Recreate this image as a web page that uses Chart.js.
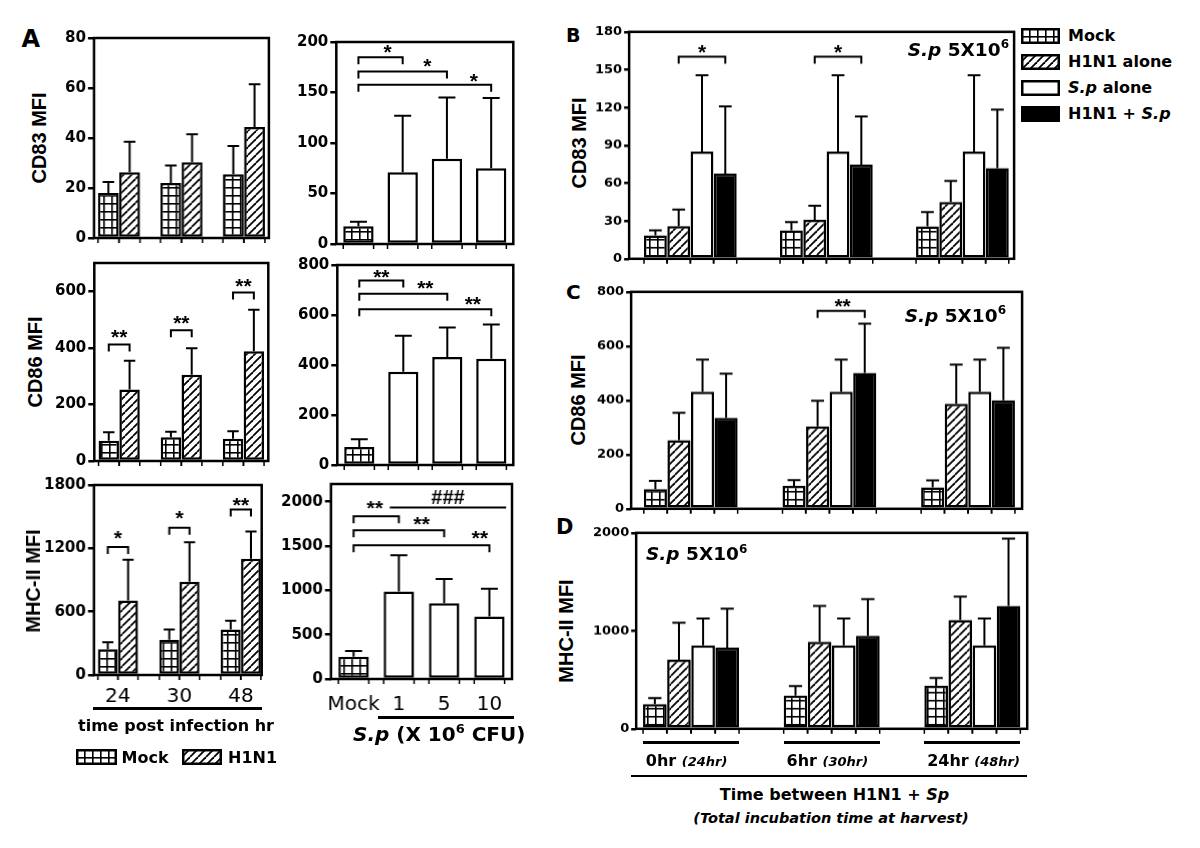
<!DOCTYPE html>
<html>
<head>
<meta charset="utf-8">
<script src="https://cdn.jsdelivr.net/npm/chart.js@4.4.1/dist/chart.umd.min.js"></script>
<style>
  html, body { margin: 0; padding: 0; background: #fff; }
  #fig { position: relative; width: 1200px; height: 848px; overflow: hidden; font-family: 'DejaVu Sans', sans-serif; color: #000; }
  #fig canvas { position: absolute; }
  .t { position: absolute; white-space: nowrap; line-height: 1; font-weight: bold; }
  .ln { position: absolute; background: #000; }
  .sup { font-size: 65%; position: relative; top: -0.6em; }
</style>
</head>
<body>
<div id="fig"></div>
<script>
// ---- data (mean, and top of the error bar) ----
const timeLabels = ['24', '30', '48'];
const doseLabels = ['Mock', '1', '5', '10'];
const doseKinds = ['grid', 'white', 'white', 'white'];

const cd83Mock = [18, 22, 25.5];
const cd83MockErr = [22.4, 29, 36.8];
const cd83H1N1 = [26.3, 30.3, 44.4];
const cd83H1N1Err = [38.5, 41.5, 61.5];
const cd83Dose = [17.6, 71, 84.4, 75];
const cd83DoseErr = [22, 127, 145, 144.5];

const cd86Mock = [72, 84, 79];
const cd86MockErr = [102, 103, 105];
const cd86H1N1 = [253, 305, 388];
const cd86H1N1Err = [354, 399, 535];
const cd86Dose = [72, 373, 432, 425];
const cd86DoseErr = [103, 517, 550, 562];

const mhcMock = [245, 333, 432];
const mhcMockErr = [311, 432, 514];
const mhcH1N1 = [705, 883, 1102];
const mhcH1N1Err = [1092, 1257, 1359];
const mhcDose = [252, 988, 856, 705];
const mhcDoseErr = [317, 1395, 1128, 1018];

// B-D: series Mock, H1N1 alone, S.p alone, H1N1 + S.p ; groups 0hr, 6hr, 24hr
const delayLabels = ['0hr', '6hr', '24hr'];
const harvestLabels = ['24hr', '30hr', '48hr'];
const seriesNames = ['Mock', 'H1N1 alone', '<i>S.p</i> alone', 'H1N1 + <i>S.p</i>'];
const seriesKinds = ['grid', 'hatch', 'white', 'black'];

const bCd83 = [[18.6, 22.6, 25.8], [26, 31, 45], [85, 85, 85], [67.5, 74.7, 72]];
const bCd83Err = [[22.6, 29.2, 37], [39, 42, 61.7], [145.5, 145.5, 145.5], [121, 113, 118.3]];
const cCd86 = [[72, 84, 79], [253, 304, 387], [432, 432, 432], [335, 501, 400]];
const cCd86Err = [[103, 106, 105], [354, 398, 532], [550, 550, 550], [498, 683, 594]];
const dMhc = [[251, 340, 440], [705, 887, 1110], [852, 852, 852], [828, 948, 1254]];
const dMhcErr = [[313, 437, 519], [1082, 1254, 1350], [1127, 1127, 1127], [1227, 1323, 1942]];

// y axis ticks
const ticksCd83 = [0, 20, 40, 60, 80];
const ticksCd83Dose = [0, 50, 100, 150, 200];
const ticksCd86 = [0, 200, 400, 600];
const ticksCd86Dose = [0, 200, 400, 600, 800];
const ticksMhc = [0, 600, 1200, 1800];
const ticksMhcDose = [0, 500, 1000, 1500, 2000];
const ticksB = [0, 30, 60, 90, 120, 150, 180];
const ticksC = [0, 200, 400, 600, 800];
const ticksD = [0, 1000, 2000];

// significance brackets: from/to = [dataset, index, shift], y = line height, ty = label height
const sigCd83Dose = [
  { from: [0, 0], to: [0, 1], y: 185, text: '*', t: 0.66, ty: 192.6 },
  { from: [0, 0], to: [0, 2], y: 170.8, text: '*', t: 0.78, ty: 179.4 },
  { from: [0, 0], to: [0, 3], y: 157.6, text: '*', t: 0.87, ty: 164.7 }
];
const sigCd86 = [
  { from: [0, 0], to: [1, 0], y: 412, text: '**', ty: 449 },
  { from: [0, 1], to: [1, 1], y: 462, text: '**', ty: 497 },
  { from: [0, 2], to: [1, 2], y: 596, text: '**', ty: 631 }
];
const sigCd86Dose = [
  { from: [0, 0], to: [0, 1], y: 738, text: '**', t: 0.5, ty: 764 },
  { from: [0, 0], to: [0, 2], y: 685, text: '**', t: 0.75, ty: 720 },
  { from: [0, 0], to: [0, 3], y: 623, text: '**', t: 0.86, ty: 658 }
];
const sigMhc = [
  { from: [0, 0], to: [1, 0], y: 1213, text: '*', ty: 1330 },
  { from: [0, 1], to: [1, 1], y: 1394, text: '*', ty: 1518 },
  { from: [0, 2], to: [1, 2], y: 1568, text: '**', ty: 1635 }
];
const sigMhcDose = [
  { from: [0, 0], to: [0, 1], y: 1836, text: '**', t: 0.47, ty: 1960 },
  { from: [0, 1, -0.2], to: [0, 3, 0.37], y: 1934, text: '###', legs: false, ty: 2053 },
  { from: [0, 0], to: [0, 2], y: 1678, text: '**', t: 0.75, ty: 1780 },
  { from: [0, 0], to: [0, 3], y: 1508, text: '**', t: 0.93, ty: 1626 }
];
const sigB = [
  { from: [1, 0], to: [3, 0], y: 160.4, text: '*', ty: 166 },
  { from: [1, 1], to: [3, 1], y: 160.4, text: '*', ty: 166 }
];
const sigC = [
  { from: [1, 1], to: [3, 1], y: 730, text: '**', t: 0.53, ty: 759 }
];

// ---- drawing helpers ----
const fig = document.getElementById('fig');

function makePattern(kind) {
  const c = document.createElement('canvas');
  const s = 8;
  c.width = s; c.height = s;
  const g = c.getContext('2d');
  g.fillStyle = '#fff';
  g.fillRect(0, 0, s, s);
  g.fillStyle = '#000';
  g.strokeStyle = '#000';
  if (kind === 'grid') {
    g.fillRect(0, 0, s, 1.6);
    g.fillRect(0, 0, 1.6, s);
  } else {
    g.lineWidth = 1.8;
    for (const k of [-s, 0, s]) {
      g.beginPath();
      g.moveTo(k, s);
      g.lineTo(k + s, 0);
      g.stroke();
    }
  }
  return g.createPattern(c, 'repeat');
}

const fills = {
  grid: makePattern('grid'),
  hatch: makePattern('hatch'),
  white: '#fff',
  black: '#000'
};

const errorBars = {
  id: 'errorBars',
  afterDatasetsDraw(chart) {
    const ctx = chart.ctx, y = chart.scales.y;
    ctx.save();
    ctx.strokeStyle = '#000';
    ctx.lineWidth = 2;
    chart.data.datasets.forEach((ds, d) => {
      chart.getDatasetMeta(d).data.forEach((bar, i) => {
        const top = y.getPixelForValue(ds.errors[i]);
        const half = bar.width * 0.28;
        ctx.beginPath();
        ctx.moveTo(bar.x, bar.y);
        ctx.lineTo(bar.x, top);
        ctx.moveTo(bar.x - half, top);
        ctx.lineTo(bar.x + half, top);
        ctx.stroke();
      });
    });
    ctx.restore();
  }
};

function bracketPlugin(items) {
  return {
    id: 'brackets',
    afterDatasetsDraw(chart) {
      const { ctx, scales: { x, y } } = chart;
      const unit = x.getPixelForValue(1) - x.getPixelForValue(0);
      const at = (p) => chart.getDatasetMeta(p[0]).data[p[1]].x + (p[2] || 0) * unit;
      ctx.save();
      ctx.strokeStyle = '#000';
      ctx.fillStyle = '#000';
      ctx.lineWidth = 2;
      items.forEach((b) => {
        const x0 = at(b.from), x1 = at(b.to), py = y.getPixelForValue(b.y);
        ctx.beginPath();
        if (b.legs === false) {
          ctx.moveTo(x0, py);
          ctx.lineTo(x1, py);
        } else {
          ctx.moveTo(x0, py + 7);
          ctx.lineTo(x0, py);
          ctx.lineTo(x1, py);
          ctx.lineTo(x1, py + 7);
        }
        ctx.stroke();
        ctx.font = b.text[0] === '#' ? 'bold 20px "Liberation Sans"' : 'bold 21px "Liberation Sans"';
        ctx.textAlign = 'center';
        ctx.textBaseline = 'alphabetic';
        const m = ctx.measureText(b.text);
        const cy = y.getPixelForValue(b.ty);
        const t = b.t === undefined ? 0.5 : b.t;
        ctx.fillText(b.text, x0 + t * (x1 - x0), cy + (m.actualBoundingBoxAscent - m.actualBoundingBoxDescent) / 2);
      });
      ctx.restore();
    }
  };
}

const frame = {
  id: 'frame',
  afterDraw(chart) {
    const { ctx, chartArea: a } = chart;
    ctx.save();
    ctx.strokeStyle = '#000';
    ctx.lineWidth = 2.5;
    ctx.strokeRect(a.left, a.top, a.right - a.left, a.bottom - a.top);
    ctx.lineWidth = 1.5;
    ctx.beginPath();
    chart.data.datasets.forEach((ds, d) => {
      chart.getDatasetMeta(d).data.forEach((bar) => {
        for (const e of [bar.x - bar.width / 2, bar.x + bar.width / 2]) {
          ctx.moveTo(e, a.bottom);
          ctx.lineTo(e, a.bottom + 5);
        }
      });
    });
    ctx.stroke();
    ctx.restore();
  }
};

function buildPanel(p) {
  const canvas = document.createElement('canvas');
  fig.appendChild(canvas);
  const [l, t, r, b] = p.box;
  canvas.width = r - l + 70;
  canvas.height = b - t + (p.xLabels ? 60 : 30);
  const datasets = p.means.map((m, s) => ({
    data: m.map((v, i) => ({ x: i, y: v })),
    errors: p.errs[s],
    backgroundColor: Array.isArray(p.kinds[s]) ? p.kinds[s].map(k => fills[k]) : fills[p.kinds[s]],
    borderColor: '#000',
    borderWidth: 2.5,
    borderSkipped: false,
    categoryPercentage: p.cat,
    barPercentage: 0.98
  }));
  const n = p.means[0].length;
  const chart = new Chart(canvas, {
    type: 'bar',
    data: { datasets },
    options: {
      responsive: false,
      maintainAspectRatio: false,
      animation: false,
      devicePixelRatio: 1,
      events: [],
      layout: { padding: { top: 4, right: 4, left: 0, bottom: 8 } },
      plugins: { legend: { display: false }, tooltip: { enabled: false } },
      scales: {
        x: {
          type: 'linear',
          min: p.xr[0],
          max: p.xr[1],
          offset: false,
          display: !!p.xLabels,
          afterBuildTicks: (s) => { s.ticks = Array.from({ length: n }, (_, i) => ({ value: i })); },
          grid: { display: false, drawTicks: false },
          border: { display: false },
          ticks: {
            color: '#000',
            font: { family: "'DejaVu Sans'", size: 20 },
            padding: p.xPad || 10,
            maxRotation: 0,
            autoSkip: false,
            callback: (v) => (p.xLabels ? p.xLabels[v] : '')
          }
        },
        y: {
          min: 0,
          max: p.yMax,
          afterBuildTicks: (s) => { s.ticks = p.yTicks.map(v => ({ value: v })); },
          grid: { drawOnChartArea: false, tickLength: p.tickLen || 6, lineWidth: 2.5, color: '#000' },
          border: { display: false },
          ticks: {
            color: '#000',
            font: { family: "'DejaVu Sans'", weight: 'bold', size: p.tickSize },
            padding: 2,
            autoSkip: false,
            callback: (v) => v
          }
        }
      }
    },
    plugins: [errorBars, bracketPlugin(p.sig || []), frame]
  });
  // fit the plot area onto the box of the reference
  let ca = chart.chartArea;
  chart.resize(canvas.width + (r - l) - (ca.right - ca.left), canvas.height + (b - t) - (ca.bottom - ca.top));
  ca = chart.chartArea;
  const ox = l - ca.left, oy = t - ca.top;
  canvas.style.left = ox + 'px';
  canvas.style.top = oy + 'px';
  return { chart, ox, oy };
}

function label(html, x, y, o = {}) {
  const d = document.createElement('div');
  d.className = 't';
  d.innerHTML = html;
  d.style.left = x + 'px';
  d.style.top = y + 'px';
  d.style.fontSize = (o.size || 16) + 'px';
  if (o.family) d.style.fontFamily = o.family;
  if (o.italic) d.style.fontStyle = 'italic';
  const tx = { left: '0', center: '-50%', right: '-100%' }[o.align || 'left'];
  d.style.transform = o.rotate ? 'translate(-50%,-50%) rotate(-90deg)' : `translate(${tx},-50%)`;
  fig.appendChild(d);
}

function hline(x0, x1, y, th) {
  const d = document.createElement('div');
  d.className = 'ln';
  d.style.left = x0 + 'px';
  d.style.top = (y - th / 2) + 'px';
  d.style.width = (x1 - x0) + 'px';
  d.style.height = th + 'px';
  fig.appendChild(d);
}

function swatch(kind, x, y, w, h) {
  const c = document.createElement('canvas');
  c.width = w; c.height = h;
  c.style.left = x + 'px';
  c.style.top = y + 'px';
  const g = c.getContext('2d');
  g.fillStyle = fills[kind];
  g.fillRect(0, 0, w, h);
  g.strokeStyle = '#000';
  g.lineWidth = 2.5;
  g.strokeRect(1.25, 1.25, w - 2.5, h - 2.5);
  fig.appendChild(c);
}

// ---- panels (box = plot area left, top, right, bottom on the page) ----
const pair = ['grid', 'hatch'];
buildPanel({ box: [94, 38, 268, 238], yMax: 80, yTicks: ticksCd83, xr: [-0.4, 2.4], cat: 0.68, tickSize: 15,
  means: [cd83Mock, cd83H1N1], errs: [cd83MockErr, cd83H1N1Err], kinds: pair });
buildPanel({ box: [336, 42, 513, 244], yMax: 200, yTicks: ticksCd83Dose, xr: [-0.5, 3.5], cat: 0.7, tickSize: 15,
  means: [cd83Dose], errs: [cd83DoseErr], kinds: [doseKinds], sig: sigCd83Dose });
buildPanel({ box: [94, 263, 268, 461], yMax: 700, yTicks: ticksCd86, xr: [-0.4, 2.4], cat: 0.67, tickSize: 15,
  means: [cd86Mock, cd86H1N1], errs: [cd86MockErr, cd86H1N1Err], kinds: pair, sig: sigCd86 });
buildPanel({ box: [337, 265, 513, 465], yMax: 800, yTicks: ticksCd86Dose, xr: [-0.5, 3.5], cat: 0.7, tickSize: 15,
  means: [cd86Dose], errs: [cd86DoseErr], kinds: [doseKinds], sig: sigCd86Dose });
buildPanel({ box: [94, 485, 261, 675], yMax: 1800, yTicks: ticksMhc, xr: [-0.39, 2.34], cat: 0.66, tickSize: 15,
  means: [mhcMock, mhcH1N1], errs: [mhcMockErr, mhcH1N1Err], kinds: pair, sig: sigMhc, xLabels: timeLabels, xPad: 10 });
buildPanel({ box: [331, 484, 512, 679], yMax: 2200, yTicks: ticksMhcDose, xr: [-0.5, 3.5], cat: 0.685, tickSize: 15,
  means: [mhcDose], errs: [mhcDoseErr], kinds: [doseKinds], sig: sigMhcDose, xLabels: doseLabels, xPad: 14 });
buildPanel({ box: [629, 32, 1014, 258], yMax: 180, yTicks: ticksB, xr: [-0.45, 2.38], cat: 0.685, tickSize: 13, tickLen: 5,
  means: bCd83, errs: bCd83Err, kinds: seriesKinds, sig: sigB });
buildPanel({ box: [631, 292, 1022, 508], yMax: 800, yTicks: ticksC, xr: [-0.43, 2.39], cat: 0.68, tickSize: 13, tickLen: 5,
  means: cCd86, errs: cCd86Err, kinds: seriesKinds, sig: sigC });
const pd = buildPanel({ box: [636, 533, 1027, 728], yMax: 2000, yTicks: ticksD, xr: [-0.39, 2.39], cat: 0.686, tickSize: 13, tickLen: 5,
  means: dMhc, errs: dMhcErr, kinds: seriesKinds });

// ---- texts ----
label('A', 21.5, 38.5, { size: 24 });
label('B', 566, 35, { size: 19 });
label('C', 566, 292, { size: 20 });
label('D', 556, 527, { size: 21 });

const titleFont = { size: 20, family: "'Liberation Sans'", rotate: true };
label('CD83 MFI', 39, 137.5, titleFont);
label('CD86 MFI', 35, 361.7, titleFont);
label('MHC-II MFI', 33, 581, titleFont);
label('CD83 MFI', 579, 142.5, titleFont);
label('CD86 MFI', 578, 400, titleFont);
label('MHC-II MFI', 566, 631, titleFont);

// A: time axis and legend
hline(92.7, 261.7, 708.5, 3);
label('time post infection hr', 176, 726, { size: 16, align: 'center' });
swatch('grid', 76, 749, 41, 16);
label('Mock', 121.5, 757.5, { size: 16 });
swatch('hatch', 181.5, 749, 40, 16);
label('H1N1', 228, 757.5, { size: 16 });

// A: dose axis
hline(378, 513.5, 717, 3);
label('<i>S.p</i> (X 10<span class="sup">6</span> CFU)', 353, 734, { size: 20 });

// B legend
seriesNames.forEach((name, s) => {
  const cy = 35.5 + s * 26.2;
  swatch(seriesKinds[s], 1021, cy - 8, 39, 16);
  label(name, 1068, cy, { size: 16 });
});

const spDose = '<i>S.p</i> 5X10<span class="sup">6</span>';
label(spDose, 1009, 49.5, { size: 18.5, align: 'right' });
label(spDose, 1006, 315.5, { size: 18.5, align: 'right' });
label(spDose, 646, 554, { size: 18.5 });

// D: group axis
const mFirst = pd.chart.getDatasetMeta(0), mLast = pd.chart.getDatasetMeta(3);
delayLabels.forEach((g, i) => {
  const b0 = mFirst.data[i], b1 = mLast.data[i];
  const x0 = pd.ox + b0.x - b0.width / 2, x1 = pd.ox + b1.x + b1.width / 2;
  hline(x0, x1, 742.7, 2.5);
  label(g + ' <i style="font-size:13px">(' + harvestLabels[i] + ')</i>', x0 + 3, 761, { size: 16 });
});
hline(631, 1027, 776, 2.5);
label('Time between H1N1 + <i>Sp</i>', 834.5, 794.5, { size: 16, align: 'center' });
label('(Total incubation time at harvest)', 831, 818, { size: 14.5, align: 'center', italic: true });
</script>
</body>
</html>
